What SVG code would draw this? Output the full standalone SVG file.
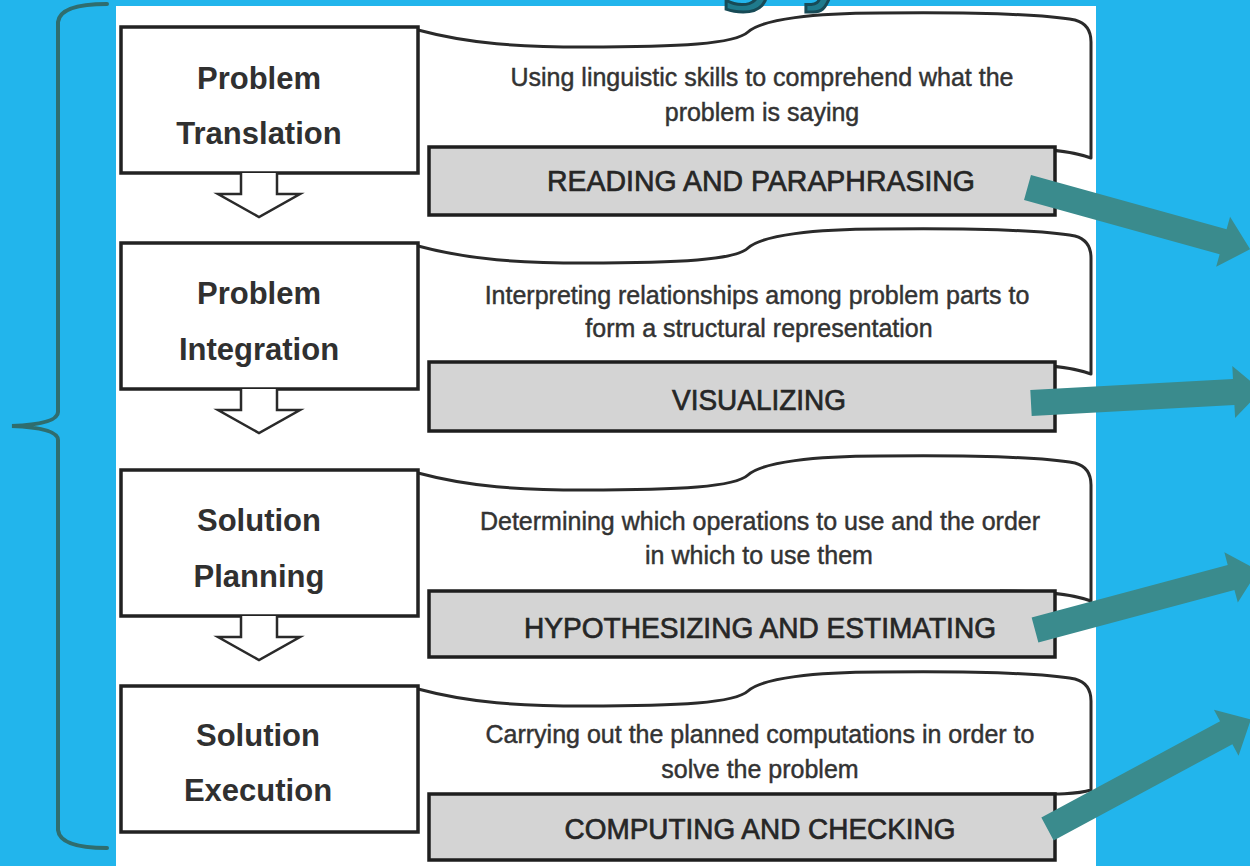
<svg xmlns="http://www.w3.org/2000/svg" width="1250" height="866" viewBox="0 0 1250 866">
  <style>
    .box { fill: #ffffff; stroke: #222222; stroke-width: 3.5; }
    .banner { fill: #ffffff; stroke: #2a2a2a; stroke-width: 3; stroke-linejoin: round; }
    .bar { fill: #d4d4d4; stroke: #1e1e1e; stroke-width: 3.5; }
    .title { font-family: "Liberation Sans", Arial, sans-serif; font-weight: bold; font-size: 31px; fill: #303030; text-anchor: middle; }
    .desc { font-family: "Liberation Sans", Arial, sans-serif; font-size: 25px; fill: #333333; stroke: #333333; stroke-width: 0.45; text-anchor: middle; }
    .label { font-family: "Liberation Sans", Arial, sans-serif; font-size: 30px; fill: #262626; stroke: #262626; stroke-width: 0.7; text-anchor: middle; }
    .down { fill: #ffffff; stroke: #2a2a2a; stroke-width: 2.5; stroke-linejoin: miter; }
    .teal { fill: #3a8b8d; }
    .brace { fill: none; stroke: #2f6d6e; stroke-width: 4; stroke-linecap: round; }
    .title-frag { font-family: "DejaVu Sans", sans-serif; font-size: 100px; fill: #1f7a8c; stroke: #174a56; stroke-width: 3; }
  </style>
  <defs>
    <!-- scroll-shaped banner behind each description -->
    <path id="scroll" d="M418,30 C470,44 520,47 585,47 C680,47 735,44 748,32 C762,19 815,13 880,13 C970,12 1040,14 1075,20 C1086,23 1091,30 1091,42 L1091,158 C1070,150 1040,148 1000,148"/>
    <!-- wide block arrow, tail at origin, pointing along +x -->
    <path id="block-arrow" d="M0,-13 L203,-13 L203,-26 L231,0 L203,26 L203,13 L0,13 Z"/>
  </defs>

  <!-- background and page -->
  <rect x="0" y="0" width="1250" height="866" fill="#22b5ec"/>
  <rect x="116" y="6" width="980" height="860" fill="#ffffff"/>

  <!-- descenders of the heading above the page -->
  <text class="title-frag" x="714 798" y="-9">gy</text>

  <!-- curly brace grouping the four stages -->
  <path class="brace" d="M107,4 Q60,4 58,22 L58,412 Q58,424 12,426 Q58,428 58,440 L58,830 Q60,848 107,848"/>

  <!-- stage 1 -->
  <g id="node-translation">
    <use href="#scroll" class="banner"/>
    <rect class="box" x="121" y="27" width="297" height="146"/>
    <text class="title" x="259" y="89">Problem</text>
    <text class="title" x="259" y="144">Translation</text>
    <text class="desc" x="762" y="86">Using linguistic skills to comprehend what the</text>
    <text class="desc" x="762" y="121">problem is saying</text>
    <rect class="bar" x="429" y="147" width="626" height="68"/>
    <text class="label" x="761" y="191" textLength="428" lengthAdjust="spacingAndGlyphs">READING AND PARAPHRASING</text>
  </g>

  <!-- stage 2 -->
  <g id="node-integration">
    <use href="#scroll" class="banner" transform="translate(0,216)"/>
    <rect class="box" x="121" y="243" width="297" height="146"/>
    <text class="title" x="259" y="304">Problem</text>
    <text class="title" x="259" y="360">Integration</text>
    <text class="desc" x="757" y="304">Interpreting relationships among problem parts to</text>
    <text class="desc" x="759" y="337">form a structural representation</text>
    <rect class="bar" x="429" y="362" width="626" height="69"/>
    <text class="label" x="759" y="410" textLength="174" lengthAdjust="spacingAndGlyphs">VISUALIZING</text>
  </g>

  <!-- stage 3 -->
  <g id="node-planning">
    <use href="#scroll" class="banner" transform="translate(0,443)"/>
    <rect class="box" x="121" y="470" width="297" height="146"/>
    <text class="title" x="259" y="531">Solution</text>
    <text class="title" x="259" y="587">Planning</text>
    <text class="desc" x="760" y="530">Determining which operations to use and the order</text>
    <text class="desc" x="759" y="564">in which to use them</text>
    <rect class="bar" x="429" y="591" width="626" height="66"/>
    <text class="label" x="760" y="638" textLength="472" lengthAdjust="spacingAndGlyphs">HYPOTHESIZING AND ESTIMATING</text>
  </g>

  <!-- stage 4 -->
  <g id="node-execution">
    <path class="banner" d="M418,689 C470,703 520,706 585,706 C680,706 735,703 748,691 C762,678 815,672 880,672 C970,671 1040,673 1075,679 C1086,682 1091,689 1091,701 L1091,790 C1075,795 1050,794 1000,794"/>
    <rect class="box" x="121" y="686" width="297" height="146"/>
    <text class="title" x="258" y="746">Solution</text>
    <text class="title" x="258" y="801">Execution</text>
    <text class="desc" x="760" y="743">Carrying out the planned computations in order to</text>
    <text class="desc" x="760" y="778">solve the problem</text>
    <rect class="bar" x="429" y="794" width="626" height="66"/>
    <text class="label" x="760" y="839" textLength="391" lengthAdjust="spacingAndGlyphs">COMPUTING AND CHECKING</text>
  </g>

  <g id="connectors">
    <!-- hollow down arrows between stages -->
    <path class="down" d="M241,173 V194 H218 L259,217 L300,194 H277 V173"/>
    <path class="down" d="M241,389 V410 H218 L259,433 L300,410 H277 V389"/>
    <path class="down" d="M241,616 V637 H218 L259,660 L300,637 H277 V616"/>
    <!-- outgoing block arrows -->
    <use href="#block-arrow" class="teal" transform="translate(1027.5,187.5) rotate(15.5)"/>
    <use href="#block-arrow" class="teal" transform="translate(1031,403) rotate(-3.1)"/>
    <use href="#block-arrow" class="teal" transform="translate(1035,630) rotate(-15)"/>
    <use href="#block-arrow" class="teal" transform="translate(1047.5,829) rotate(-28.3)"/>
  </g>
</svg>
